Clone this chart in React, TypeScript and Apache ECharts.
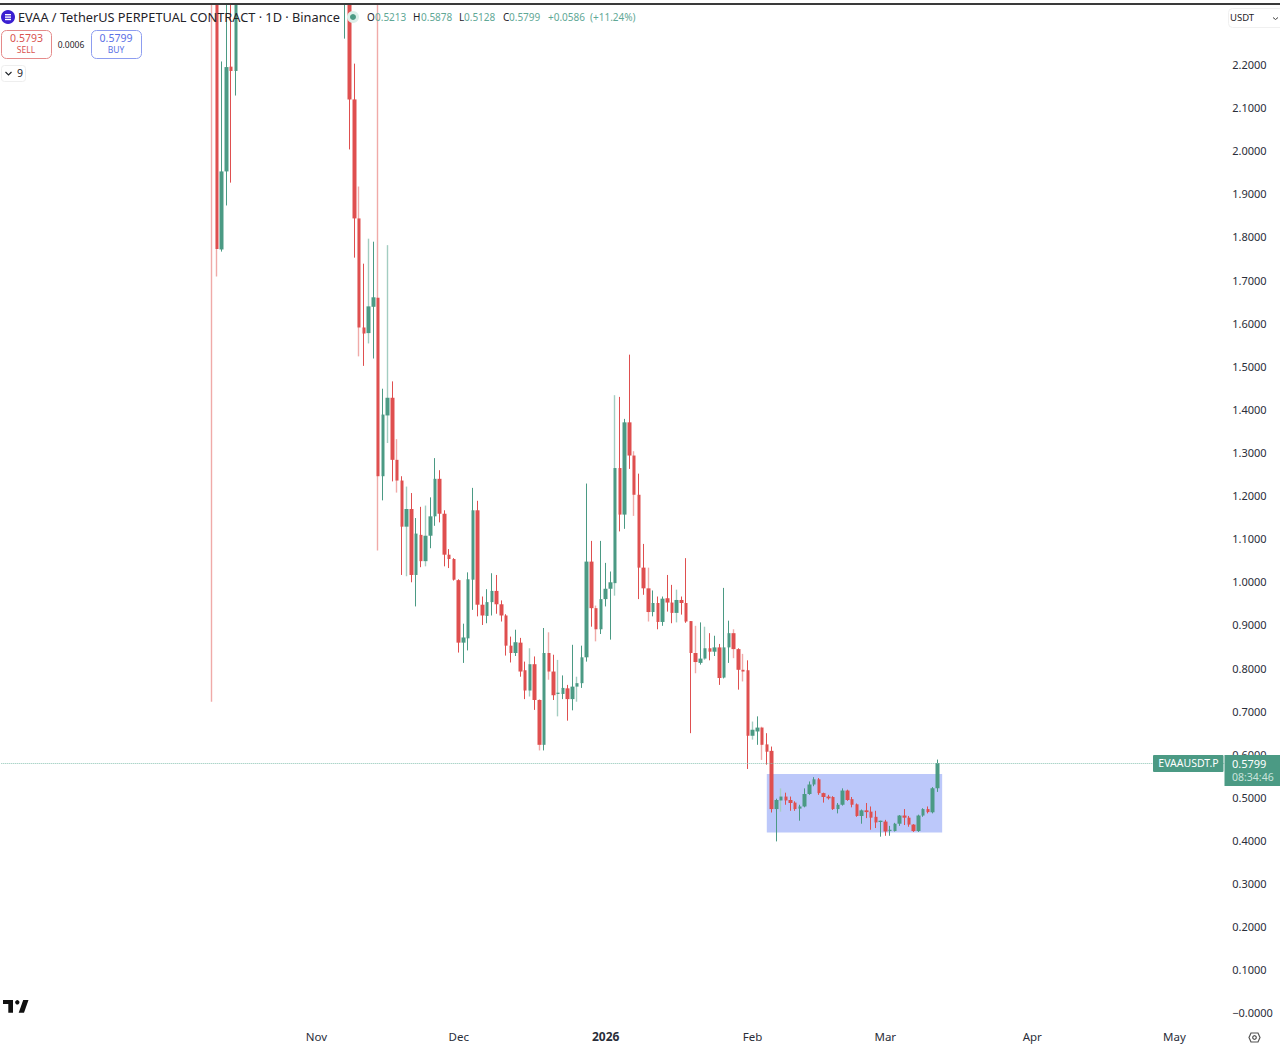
import React, { useEffect, useRef } from "react";
import * as echarts from "echarts";

const FONT = '"Noto Sans", sans-serif';
const GREEN = "#4b9a84";
const RED = "#df4f4f";
const GREEN_SOFT = "#a3cdc1";
const RED_SOFT = "#f0aaa8";

// Calendar of the category axis
const firstDay = "2025-08-27";
const dayCount = 258;
const firstCandleDay = "2025-10-10";
const monthLabels: Record<string, string> = {
  "2025-11-01": "Nov",
  "2025-12-01": "Dec",
  "2026-01-01": "2026",
  "2026-02-01": "Feb",
  "2026-03-01": "Mar",
  "2026-04-01": "Apr",
  "2026-05-01": "May",
};
const priceTicks = [
  0, 0.1, 0.2, 0.3, 0.4, 0.5, 0.6, 0.7, 0.8, 0.9, 1.0, 1.1, 1.2, 1.3, 1.4, 1.5,
  1.6, 1.7, 1.8, 1.9, 2.0, 2.1, 2.2,
];

const N = null;
// 22 days (Oct 16 - Nov 6) sit entirely above the visible range
const hidden = [N, N, N, N, N, N, N, N, N, N, N, N, N, N, N, N, N, N, N, N, N, N];

const opens = [
  3.9, 2.6, 1.771, 1.952, 2.195, 2.185, ...hidden,
  2.45, 2.7, 2.119, 1.843,
  1.59, 1.577, 1.638, 1.659, 1.245, 1.386, 1.427, 1.283, 1.235, 1.128,
  1.169, 1.016, 1.109, 1.048, 1.107, 1.152, 1.239, 1.158, 1.063, 1.053,
  1.004, 0.859, 0.869, 1.005, 1.166, 0.947, 0.921, 0.953, 0.979, 0.948,
  0.922, 0.852, 0.835, 0.859, 0.795, 0.748, 0.809, 0.726, 0.622, 0.835,
  0.792, 0.74, 0.74, 0.753, 0.728, 0.757, 0.765, 0.825, 1.047, 0.939,
  0.89, 0.96, 0.984, 0.997, 1.264, 1.156, 1.37, 1.293, 1.202, 1.033,
  0.985, 0.93, 0.951, 0.907, 0.962, 0.952, 0.928, 0.958, 0.951, 0.909,
  0.835, 0.812, 0.822, 0.846, 0.838, 0.848, 0.778, 0.848, 0.881, 0.844,
  0.796, 0.795, 0.643, 0.653, 0.662, 0.623, 0.608, 0.473, 0.493, 0.502,
  0.494, 0.488, 0.474, 0.479, 0.508, 0.53, 0.542, 0.51, 0.502, 0.501,
  0.473, 0.483, 0.516, 0.496, 0.484, 0.457, 0.47, 0.467, 0.455, 0.443,
  0.444, 0.422, 0.422, 0.439, 0.458, 0.453, 0.437, 0.422, 0.458, 0.473,
  0.4655, 0.5213,
];
const closes = [
  2.6, 1.772, 1.952, 2.194, 2.185, 2.6, ...hidden,
  2.7, 2.119, 1.843, 1.59,
  1.576, 1.639, 1.66, 1.245, 1.388, 1.427, 1.283, 1.235, 1.128, 1.169,
  1.016, 1.112, 1.048, 1.107, 1.152, 1.239, 1.158, 1.063, 1.053, 1.005,
  0.859, 0.871, 1.006, 1.166, 0.947, 0.922, 0.953, 0.979, 0.948, 0.922,
  0.852, 0.835, 0.86, 0.792, 0.748, 0.809, 0.726, 0.622, 0.835, 0.792,
  0.737, 0.743, 0.754, 0.728, 0.757, 0.765, 0.825, 1.047, 0.939, 0.89,
  0.96, 0.984, 0.999, 1.264, 1.156, 1.37, 1.293, 1.202, 1.033, 0.985,
  0.93, 0.951, 0.907, 0.961, 0.952, 0.928, 0.958, 0.951, 0.908, 0.835,
  0.814, 0.822, 0.846, 0.838, 0.848, 0.777, 0.848, 0.881, 0.844, 0.796,
  0.792, 0.643, 0.657, 0.662, 0.622, 0.606, 0.473, 0.494, 0.502, 0.493,
  0.487, 0.473, 0.479, 0.508, 0.53, 0.542, 0.51, 0.501, 0.498, 0.473,
  0.483, 0.516, 0.494, 0.483, 0.457, 0.47, 0.466, 0.453, 0.442, 0.446,
  0.421, 0.425, 0.439, 0.458, 0.453, 0.437, 0.422, 0.458, 0.473, 0.466,
  0.5213, 0.5799,
];
const highs = [
  4.0, 2.8, 2.207, 2.4, 2.4, 2.7, ...hidden,
  2.8, 2.8, 2.202, 1.917,
  1.738, 1.796, 1.789, 2.4, 1.448, 1.781, 1.465, 1.331, 1.245, 1.221,
  1.206, 1.148, 1.174, 1.177, 1.196, 1.287, 1.259, 1.166, 1.076, 1.055,
  1.006, 0.903, 1.022, 1.218, 1.188, 0.966, 0.983, 1.02, 1.016, 0.957,
  0.925, 0.873, 0.889, 0.87, 0.815, 0.846, 0.827, 0.728, 0.893, 0.883,
  0.831, 0.819, 0.783, 0.761, 0.854, 0.78, 0.852, 1.228, 1.095, 0.945,
  1.095, 1.044, 1.024, 1.433, 1.429, 1.378, 1.527, 1.303, 1.251, 1.088,
  1.033, 0.98, 0.966, 0.966, 1.016, 0.993, 0.982, 0.966, 1.055, 0.909,
  0.898, 0.906, 0.896, 0.881, 0.875, 0.856, 0.986, 0.91, 0.89, 0.846,
  0.833, 0.818, 0.676, 0.688, 0.664, 0.649, 0.618, 0.497, 0.521, 0.511,
  0.502, 0.491, 0.483, 0.521, 0.537, 0.547, 0.545, 0.511, 0.506, 0.503,
  0.487, 0.521, 0.518, 0.501, 0.486, 0.472, 0.487, 0.479, 0.469, 0.446,
  0.448, 0.434, 0.441, 0.459, 0.473, 0.457, 0.438, 0.46, 0.475, 0.479,
  0.524, 0.5878,
];
const lows = [
  0.722, 1.708, 1.766, 1.873, 1.926, 2.128, ...hidden,
  2.26, 2.003, 1.752, 1.523,
  1.501, 1.553, 1.518, 1.073, 1.189, 1.322, 1.233, 1.207, 1.016, 1.013,
  0.999, 0.943, 1.034, 1.036, 1.078, 1.13, 1.138, 1.036, 1.032, 1.003,
  0.836, 0.812, 0.841, 0.935, 0.92, 0.9, 0.904, 0.922, 0.926, 0.908,
  0.829, 0.813, 0.828, 0.78, 0.728, 0.734, 0.703, 0.609, 0.609, 0.773,
  0.726, 0.688, 0.728, 0.678, 0.702, 0.722, 0.754, 0.815, 0.896, 0.862,
  0.879, 0.943, 0.866, 0.968, 1.117, 1.123, 1.262, 1.153, 0.96, 0.97,
  0.908, 0.92, 0.89, 0.898, 0.931, 0.904, 0.906, 0.924, 0.905, 0.649,
  0.788, 0.808, 0.819, 0.818, 0.828, 0.761, 0.776, 0.812, 0.823, 0.75,
  0.769, 0.566, 0.634, 0.622, 0.587, 0.576, 0.465, 0.398, 0.467, 0.483,
  0.469, 0.469, 0.446, 0.477, 0.506, 0.526, 0.506, 0.488, 0.495, 0.471,
  0.463, 0.481, 0.492, 0.477, 0.455, 0.439, 0.452, 0.425, 0.429, 0.409,
  0.411, 0.411, 0.421, 0.434, 0.436, 0.432, 0.42, 0.42, 0.455, 0.463,
  0.463, 0.5128,
];
// Candles whose wick looks pale in the picture (dates)
const paleWickDays = [
  "2025-10-10", "2025-10-11", "2025-11-10", "2025-11-12", "2025-11-14",
  "2025-11-16", "2025-11-18", "2025-11-20", "2025-11-24", "2025-12-16",
  "2025-12-18", "2025-12-20", "2025-12-22", "2025-12-26", "2025-12-30",
  "2026-01-03", "2026-01-07", "2026-01-10", "2026-01-16", "2026-01-20",
  "2026-01-22", "2026-01-28", "2026-01-30", "2026-02-01", "2026-02-03",
  "2026-02-07",
];

const buildCategories = () => {
  const out: string[] = [];
  const start = Date.parse(firstDay + "T00:00:00Z");
  for (let i = 0; i < dayCount; i++) {
    out.push(new Date(start + i * 86400000).toISOString().slice(0, 10));
  }
  return out;
};

const txt = (
  text: string,
  x: number,
  y: number,
  fill: string,
  fontSize: number,
  align: string = "left",
  fontWeight: string | number = "normal",
) => ({
  type: "text",
  z: 100,
  silent: true,
  style: {
    text,
    x,
    y,
    fill,
    fontSize,
    fontFamily: FONT,
    fontWeight,
    align,
    verticalAlign: "middle",
  },
});

const box = (
  x: number,
  y: number,
  width: number,
  height: number,
  stroke: string,
  r: number,
  fill = "#ffffff",
) => ({
  type: "rect",
  z: 99,
  silent: true,
  shape: { x, y, width, height, r },
  style: { fill, stroke, lineWidth: 1 },
});

const buildGraphic = () => {
  const ink = "#1f2329";
  const soft = "#5fa896";
  return [
    { type: "rect", z: 98, shape: { x: 0, y: 0, width: 1280, height: 3 }, style: { fill: "#ffffff" } },
    { type: "rect", z: 98, shape: { x: 0, y: 3, width: 1280, height: 2 }, style: { fill: "#3a3a3a" } },
    // logo + title
    { type: "circle", z: 100, shape: { cx: 8, cy: 17, r: 7 }, style: { fill: "#3a1fd1" } },
    { type: "rect", z: 101, shape: { x: 5, y: 14, width: 6, height: 1.4 }, style: { fill: "#fff" } },
    { type: "rect", z: 101, shape: { x: 5, y: 16.4, width: 6, height: 1.4 }, style: { fill: "#fff" } },
    { type: "rect", z: 101, shape: { x: 5, y: 18.8, width: 6, height: 1.4 }, style: { fill: "#fff" } },
    txt("EVAA / TetherUS PERPETUAL CONTRACT · 1D · Binance", 18, 16.5, ink, 12.75),
    { type: "circle", z: 100, shape: { cx: 353, cy: 17, r: 6 }, style: { fill: "#dcefe9" } },
    { type: "circle", z: 101, shape: { cx: 353, cy: 17, r: 3 }, style: { fill: GREEN } },
    txt("O", 367, 17, ink, 10),
    txt("0.5213", 375, 17, soft, 10),
    txt("H", 413, 17, ink, 10),
    txt("0.5878", 421, 17, soft, 10),
    txt("L", 459, 17, ink, 10),
    txt("0.5128", 464, 17, soft, 10),
    txt("C", 503, 17, ink, 10),
    txt("0.5799", 509, 17, soft, 10),
    txt("+0.0586", 548, 17, soft, 10),
    txt("(+11.24%)", 590, 17, soft, 10),
    // sell / buy
    box(1.5, 30.5, 50, 28, "#e58a8a", 5),
    txt("0.5793", 26.5, 37.5, "#d9534f", 10.5, "center"),
    txt("SELL", 26, 49.5, "#d9534f", 8.5, "center"),
    txt("0.0006", 71, 44, ink, 8.5, "center"),
    box(91.5, 30.5, 50, 28, "#8d9df0", 5),
    txt("0.5799", 116, 37.5, "#5a70e6", 10.5, "center"),
    txt("BUY", 116, 49.5, "#5a70e6", 8.5, "center"),
    box(1.5, 65.5, 24, 16, "#eeeeee", 3),
    {
      type: "polyline",
      z: 100,
      shape: { points: [[5.5, 72], [8.5, 75], [11.5, 72]] },
      style: { stroke: ink, fill: "none", lineWidth: 1.1 },
    },
    txt("9", 20, 73, ink, 10.5, "center"),
    // currency selector
    box(1228.5, 8.5, 60, 19, "#f0f0f0", 4),
    txt("USDT", 1230, 17.5, ink, 9.5),
    {
      type: "polyline",
      z: 100,
      shape: { points: [[1273, 17.5], [1275.5, 19.5], [1278, 17.5]] },
      style: { stroke: "#444", fill: "none", lineWidth: 1 },
    },
    // price tags
    { type: "rect", z: 99, shape: { x: 1153, y: 755, width: 70.5, height: 17, r: 1 }, style: { fill: GREEN } },
    txt("EVAAUSDT.P", 1188.5, 763, "#ffffff", 10.5, "center"),
    { type: "rect", z: 99, shape: { x: 1224.5, y: 755, width: 55.5, height: 31 }, style: { fill: GREEN } },
    txt("0.5799", 1232, 763, "#ffffff", 11),
    txt("08:34:46", 1232, 777, "#c9e4dc", 10.5),
    // TradingView mark
    { type: "polygon", z: 100, shape: { points: [[3, 1000], [13, 1000], [13, 1012.7], [8.3, 1012.7], [8.3, 1004], [3, 1004]] }, style: { fill: "#111" } },
    { type: "circle", z: 100, shape: { cx: 17.3, cy: 1002.3, r: 2.2 }, style: { fill: "#111" } },
    { type: "polygon", z: 100, shape: { points: [[18.7, 1012.7], [24, 1012.7], [28.5, 1000], [23.2, 1000]] }, style: { fill: "#111" } },
    // settings icon
    {
      type: "polygon",
      z: 100,
      shape: { points: [[1251, 1033], [1258, 1033], [1260, 1037.5], [1258, 1042], [1251, 1042], [1249, 1037.5]] },
      style: { stroke: "#555", fill: "none", lineWidth: 1.2 },
    },
    { type: "circle", z: 100, shape: { cx: 1254.5, cy: 1037.5, r: 1.8 }, style: { stroke: "#555", fill: "none", lineWidth: 1.2 } },
  ];
};

export default function App() {
  const ref = useRef<HTMLDivElement>(null);
  useEffect(() => {
    document.body.style.margin = "0";
    const chart = echarts.init(ref.current!, undefined, { renderer: "svg" });
    const categories = buildCategories();
    const offset = categories.indexOf(firstCandleDay);
    const blank = ["-", "-", "-", "-"];
    const valid = (k: number) => k >= 0 && k < opens.length && opens[k] !== null;
    // Full candles with only their wick visible; bodies are laid on top.
    const wickData = categories.map((day, i) => {
      const k = i - offset;
      if (!valid(k)) return blank;
      const value = [opens[k], closes[k], lows[k], highs[k]];
      if (!paleWickDays.includes(day)) return value;
      const c = closes[k]! > opens[k]! ? GREEN_SOFT : RED_SOFT;
      return { value, itemStyle: { borderColor: c, borderColor0: c, color: c, color0: c, borderWidth: 1.4 } };
    });
    const bodyData = categories.map((_, i) => {
      const k = i - offset;
      if (!valid(k)) return blank;
      const o = opens[k]!;
      const c = closes[k]!;
      return [o, c, Math.min(o, c), Math.max(o, c)];
    });
    chart.setOption({
      animation: false,
      backgroundColor: "#ffffff",
      grid: { left: 1.3, width: 1222.9, top: 5, height: 1020 },
      xAxis: {
        type: "category",
        data: categories,
        axisLine: { show: false },
        axisTick: { show: false },
        splitLine: { show: false },
        axisLabel: {
          interval: (_: number, v: string) => v in monthLabels,
          formatter: (v: string) =>
            monthLabels[v] === "2026" ? "{b|2026}" : monthLabels[v] ?? "",
          color: "#2a2e39",
          fontSize: 11.5,
          fontFamily: FONT,
          margin: 5,
          rich: { b: { fontWeight: "bold", fontSize: 12, fontFamily: FONT, color: "#2a2e39" } },
        },
      },
      yAxis: {
        type: "value",
        position: "right",
        min: -0.02785,
        max: 2.338,
        scale: true,
        axisLine: { show: false },
        axisTick: { show: false },
        splitLine: { show: false },
        axisLabel: {
          customValues: priceTicks,
          formatter: (v: number) => (v === 0 ? "−0.0000" : v.toFixed(4)),
          color: "#2a2e39",
          fontSize: 11,
          fontFamily: FONT,
          margin: 8,
        },
      },
      series: [
        {
          type: "candlestick",
          name: "wicks",
          data: wickData,
          barWidth: 1,
          clip: true,
          z: 2,
          itemStyle: {
            color: GREEN,
            color0: RED,
            borderColor: GREEN,
            borderColor0: RED,
            borderWidth: 1,
          },
          markArea: {
            silent: true,
            itemStyle: { color: "#bcc8fa", opacity: 1 },
            data: [[{ xAxis: "2026-02-04", yAxis: 0.5546 }, { xAxis: "2026-03-13", yAxis: 0.4184 }]],
          },
          markLine: {
            silent: true,
            symbol: "none",
            label: { show: false },
            lineStyle: { type: "dotted", color: "#8cc4b4", width: 1 },
            data: [{ yAxis: 0.5799 }],
          },
        },
        {
          type: "candlestick",
          name: "bodies",
          data: bodyData,
          barWidth: 4,
          clip: true,
          z: 3,
          itemStyle: {
            color: GREEN,
            color0: RED,
            borderColor: GREEN,
            borderColor0: RED,
            borderWidth: 0,
          },
        },
      ],
      graphic: buildGraphic(),
    });
    return () => chart.dispose();
  }, []);
  return <div ref={ref} style={{ width: 1280, height: 1047 }} />;
}
